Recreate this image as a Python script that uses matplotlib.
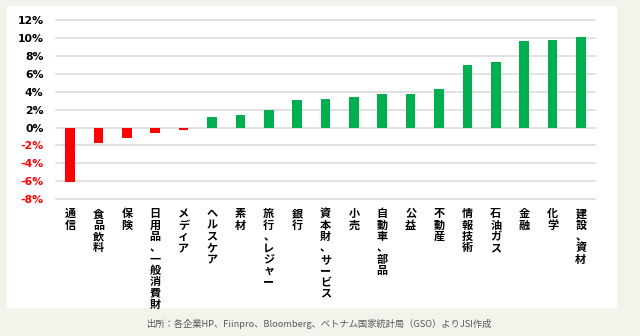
import matplotlib
matplotlib.use("Agg")
import matplotlib.pyplot as plt
from matplotlib.patches import Rectangle

plt.rcParams['font.family'] = ['Noto Sans CJK JP', 'DejaVu Sans']

# セクター別騰落率 (%)
sectors = ['通信', '食品飲料', '保険', '日用品、一般消費財', 'メディア', 'ヘルスケア',
           '素材', '旅行、レジャー', '銀行', '資本財、サービス', '小売', '自動車、部品',
           '公益', '不動産', '情報技術', '石油ガス', '金融', '化学', '建設、資材']
returns = [-6.1, -1.75, -1.2, -0.6, -0.3, 1.2, 1.35, 2.0, 3.1, 3.2, 3.45, 3.8,
           3.8, 4.3, 7.0, 7.35, 9.7, 9.8, 10.1]
y_ticks = [-8, -6, -4, -2, 0, 2, 4, 6, 8, 10, 12]
source = '出所：各企業HP、Fiinpro、Bloomberg、ベトナム国家統計局（GSO）よりJSI作成'

BG = '#f3f3eb'
GREEN = '#00b050'
RED = '#ff0000'

fig = plt.figure(figsize=(6.4, 3.36), dpi=100, facecolor=BG)
# white chart panel behind the axes
fig.patches.append(Rectangle((7 / 640, 1 - 308 / 336), 610 / 640, 302 / 336,
                             transform=fig.transFigure, facecolor='white',
                             edgecolor='none', zorder=-10))

ax = fig.add_axes([56 / 640, 1 - 199 / 336, 539 / 640, 178.7 / 336])
ax.set_facecolor('none')

x = range(len(sectors))
colors = [GREEN if v >= 0 else RED for v in returns]
ax.bar(x, returns, width=0.34, color=colors, zorder=3)

ax.set_xlim(-0.5, len(sectors) - 0.5)
ax.set_ylim(-8, 12)
ax.set_yticks(y_ticks)
ax.set_yticklabels([f'{t}%' for t in y_ticks], fontsize=7.8, fontweight='bold',
                   family=['DejaVu Sans'])
for lab, t in zip(ax.get_yticklabels(), y_ticks):
    lab.set_color(RED if t < 0 else 'black')

# vertical (top-to-bottom) category labels
ax.set_xticks(list(x))
ax.set_xticklabels(['\n'.join(s) for s in sectors], fontsize=8,
                   fontweight='bold', linespacing=0.83, va='top')
ax.tick_params(axis='both', length=0)
ax.tick_params(axis='y', pad=9)
ax.tick_params(axis='x', pad=6)

ax.grid(axis='y', color='#d9d9d9', linewidth=1.1, zorder=0)
for line in ax.get_ygridlines():
    line.set_clip_on(False)
for sp in ax.spines.values():
    sp.set_visible(False)

fig.text(0.5, 1 - 324 / 336, source, ha='center', va='center', fontsize=6.7,
         color='#595959')

fig.savefig('out.png', dpi=100, facecolor=BG)
